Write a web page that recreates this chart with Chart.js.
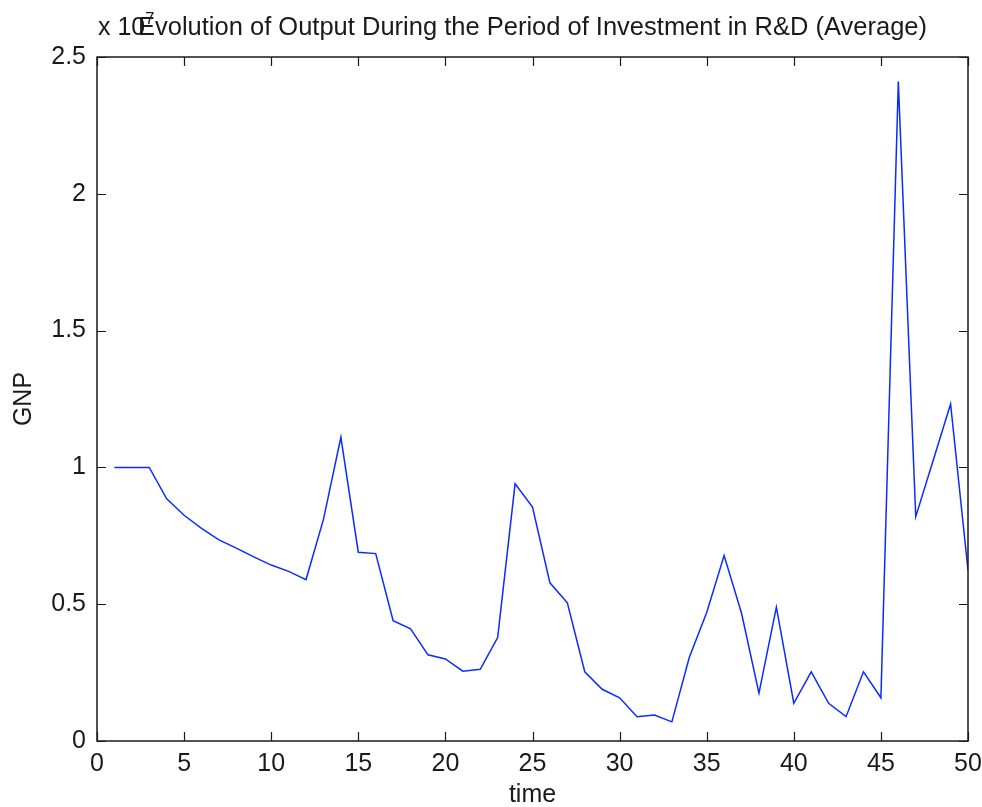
<!DOCTYPE html>
<html>
<head>
<meta charset="utf-8">
<script src="https://cdn.jsdelivr.net/npm/chart.js@4.4.0/dist/chart.umd.min.js"></script>
<style>
  html, body { margin: 0; padding: 0; background: #fff; }
  canvas { display: block; }
</style>
</head>
<body>
<canvas id="gnpChart" width="982" height="807"></canvas>
<script>
// time steps and average GNP (in units of 1e7)
const timeSteps = Array.from({ length: 50 }, (_, i) => i + 1);
const gnpValues = [
    1.0, 1.0, 1.0, 0.885, 0.825, 0.777, 0.735, 0.705, 0.673, 0.643,
    0.620, 0.590, 0.81, 1.11, 0.69, 0.685, 0.44, 0.41, 0.315, 0.30,
    0.255, 0.262, 0.378, 0.94, 0.855, 0.578, 0.505, 0.253, 0.189, 0.158,
    0.089, 0.095, 0.07, 0.305, 0.47, 0.678, 0.467, 0.175, 0.489, 0.138,
    0.253, 0.138, 0.089, 0.253, 0.158, 2.41, 0.82, 1.025, 1.232, 0.624
];
const xTicks = [0, 5, 10, 15, 20, 25, 30, 35, 40, 45, 50];
const yTicks = [0, 0.5, 1, 1.5, 2, 2.5];

const titleText = 'Evolution of Output During the Period of Investment in R&D (Average)';
const FONT = '"Liberation Sans", Arial, Helvetica, sans-serif';

// draws the MATLAB-style box, inward ticks and the text labels
const matlabFrame = {
    id: 'matlabFrame',
    beforeDraw(chart) {
        const ctx = chart.ctx;
        ctx.save();
        ctx.fillStyle = '#fff';
        ctx.fillRect(0, 0, chart.width, chart.height);
        ctx.restore();
    },
    afterDraw(chart) {
        const { ctx, chartArea: a, scales } = chart;
        const tick = 9;
        ctx.save();
        ctx.strokeStyle = '#1a1a1a';
        ctx.lineWidth = 1.5;
        ctx.strokeRect(a.left, a.top, a.right - a.left, a.bottom - a.top);

        ctx.lineWidth = 1.2;
        ctx.beginPath();
        xTicks.forEach(v => {
            const px = Math.round(scales.x.getPixelForValue(v)) + 0.5;
            ctx.moveTo(px, a.bottom); ctx.lineTo(px, a.bottom - tick);
            ctx.moveTo(px, a.top); ctx.lineTo(px, a.top + tick);
        });
        yTicks.forEach(v => {
            const py = Math.round(scales.y.getPixelForValue(v)) + 0.5;
            ctx.moveTo(a.left, py); ctx.lineTo(a.left + tick, py);
            ctx.moveTo(a.right, py); ctx.lineTo(a.right - tick, py);
        });
        ctx.stroke();

        ctx.fillStyle = '#1a1a1a';
        ctx.textBaseline = 'alphabetic';

        // exponent label
        ctx.font = '25px ' + FONT;
        ctx.textAlign = 'left';
        ctx.fillText('x 10', 98, 35);
        ctx.font = '17px ' + FONT;
        ctx.fillText('7', 145, 24);

        // title
        ctx.font = '25.5px ' + FONT;
        ctx.textAlign = 'center';
        ctx.fillText(titleText, (a.left + a.right) / 2, 35);

        // axis titles
        ctx.font = '25px ' + FONT;
        ctx.textBaseline = 'middle';
        ctx.fillText('time', (a.left + a.right) / 2, 795);
        ctx.save();
        ctx.translate(24, (a.top + a.bottom) / 2);
        ctx.rotate(-Math.PI / 2);
        ctx.fillText('GNP', 0, 0);
        ctx.restore();
        ctx.restore();
    }
};

new Chart(document.getElementById('gnpChart').getContext('2d'), {
    type: 'line',
    data: {
        datasets: [{
            label: 'GNP',
            data: timeSteps.map((t, i) => ({ x: t, y: gnpValues[i] })),
            borderColor: '#0a2cff',
            borderWidth: 1.5,
            pointRadius: 0,
            tension: 0,
            fill: false
        }]
    },
    options: {
        responsive: false,
        animation: false,
        devicePixelRatio: 1,
        layout: { padding: { top: 57, right: 14, left: 0, bottom: 0 } },
        plugins: {
            legend: { display: false },
            tooltip: { enabled: false },
            title: { display: false }
        },
        scales: {
            x: {
                type: 'linear',
                min: 0,
                max: 50,
                afterFit: s => {
                    s.height = 66;
                    s.paddingLeft = 0;
                    s.paddingRight = 0;
                },
                afterBuildTicks: s => { s.ticks = xTicks.map(v => ({ value: v })); },
                grid: { display: false, drawTicks: false },
                border: { display: false },
                ticks: {
                    padding: 8,
                    maxRotation: 0,
                    autoSkip: false,
                    color: '#1a1a1a',
                    font: { family: FONT, size: 25 },
                    callback: v => String(v)
                }
            },
            y: {
                type: 'linear',
                min: 0,
                max: 2.5,
                afterFit: s => {
                    s.width = 97;
                    s.paddingTop = 0;
                    s.paddingBottom = 0;
                },
                afterBuildTicks: s => { s.ticks = yTicks.map(v => ({ value: v })); },
                grid: { display: false, drawTicks: false },
                border: { display: false },
                ticks: {
                    padding: 11,
                    autoSkip: false,
                    color: '#1a1a1a',
                    font: { family: FONT, size: 25 },
                    callback: v => String(v)
                }
            }
        }
    },
    plugins: [matlabFrame]
});
</script>
</body>
</html>
